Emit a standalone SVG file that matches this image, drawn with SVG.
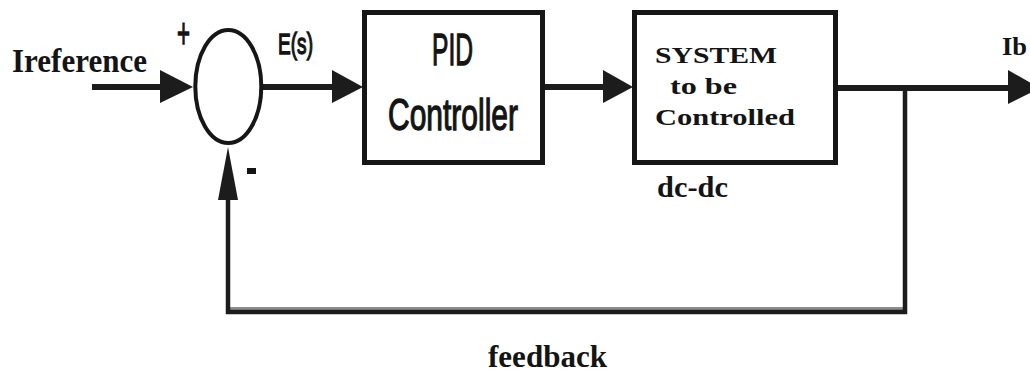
<svg xmlns="http://www.w3.org/2000/svg" width="1030" height="373" viewBox="0 0 1030 373">
  <style>
    .serif { font-family: "Liberation Serif", "Times New Roman", serif; font-weight: bold; fill: #141414; }
    .sans { font-family: "Liberation Sans", Arial, sans-serif; fill: #141414; stroke: #141414; stroke-width: 1.3; }
    .box { fill: #ffffff; stroke: #161616; stroke-width: 5; }
    .ring { fill: #ffffff; stroke: #161616; stroke-width: 4; }
    .wire { fill: none; stroke: #1c1c1c; stroke-width: 6; stroke-linecap: butt; }
    .wire-thin { fill: none; stroke: #1c1c1c; stroke-width: 4.5; }
    .head { fill: #1c1c1c; stroke: none; }
  </style>
  <rect x="0" y="0" width="1030" height="373" fill="#ffffff"/>

  <g id="connectors">
    <line class="wire" x1="92" y1="87" x2="162" y2="87"/>
    <polygon class="head" points="160,70 193,87 160,103"/>
    <line class="wire" x1="262" y1="87" x2="334" y2="87"/>
    <polygon class="head" points="332,70 363,87 332,103"/>
    <line class="wire" x1="545" y1="87" x2="605" y2="87"/>
    <polygon class="head" points="603,70 633,87 603,103"/>
    <line class="wire" x1="837" y1="88" x2="1010" y2="88"/>
    <polygon class="head" points="1008,70 1040,88 1008,104"/>
    <polyline class="wire-thin" points="905,88 905,312 228,312 228,198"/>
    <line class="wire" x1="228" y1="310" x2="905" y2="310" stroke-width="3" opacity="0.5"/>
    <polygon class="head" points="218,200 228,147 238,200"/>
  </g>

  <g id="sum">
    <ellipse class="ring" cx="228.3" cy="86.5" rx="33" ry="56.5"/>
    <text class="sans" x="177" y="48" font-size="42" textLength="13" lengthAdjust="spacingAndGlyphs" stroke-width="0.6">+</text>
    <rect x="247" y="168" width="9" height="6" fill="#141414"/>
  </g>

  <g id="pid">
    <rect class="box" x="364.5" y="12.5" width="178" height="150"/>
    <text class="sans" x="432" y="65" font-size="45" textLength="41" lengthAdjust="spacingAndGlyphs">PID</text>
    <text class="sans" x="388" y="130" font-size="45" textLength="130" lengthAdjust="spacingAndGlyphs">Controller</text>
  </g>

  <g id="system">
    <rect class="box" x="634.5" y="12.5" width="201" height="150"/>
    <text class="serif" x="655" y="63" font-size="24" textLength="122" lengthAdjust="spacingAndGlyphs">SYSTEM</text>
    <text class="serif" x="670" y="94" font-size="24" textLength="67" lengthAdjust="spacingAndGlyphs">to be</text>
    <text class="serif" x="655" y="125" font-size="24" textLength="140" lengthAdjust="spacingAndGlyphs">Controlled</text>
  </g>

  <g id="labels">
    <text class="serif" x="12" y="72" font-size="33" textLength="135" lengthAdjust="spacingAndGlyphs">Ireference</text>
    <text class="sans" x="278" y="54" font-size="29" textLength="35" lengthAdjust="spacingAndGlyphs" stroke-width="1">E(s)</text>
    <text class="serif" x="1002" y="55" font-size="26" textLength="25" lengthAdjust="spacingAndGlyphs">Ib</text>
    <text class="serif" x="657" y="197" font-size="29" textLength="71" lengthAdjust="spacingAndGlyphs">dc-dc</text>
    <text class="serif" x="488" y="367" font-size="32" textLength="119" lengthAdjust="spacingAndGlyphs">feedback</text>
  </g>
</svg>
